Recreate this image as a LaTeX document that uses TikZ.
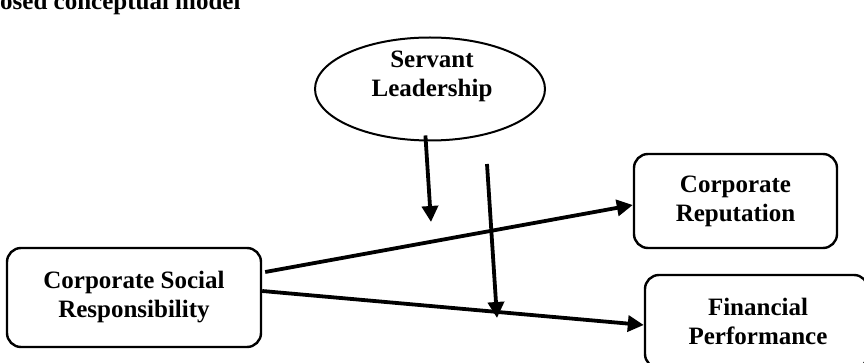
\documentclass[tikz,border=0pt]{standalone}
\usepackage{fontspec}
\setmainfont{Liberation Serif}
\usetikzlibrary{shapes.geometric,arrows.meta}
\begin{document}
\begin{tikzpicture}[x=1pt,y=-1pt,
  every node/.style={font=\fontsize{25}{29}\selectfont\bfseries},
  boxnode/.style={draw, line width=2.4pt, rounded corners=14pt, align=center, inner sep=0pt},
  ellnode/.style={draw, ellipse, line width=2pt, inner sep=0pt},
  conn/.style={line width=3.8pt, -{Triangle[length=16pt,width=16pt]}}]
\useasboundingbox (0,0) rectangle (864,363);
\clip (0,0) rectangle (864,363);
% title (partly cut at the top, as in the reference)
\node[anchor=base west, inner sep=0pt] (title) at (0,10) {osed conceptual model};
% nodes
\node[ellnode, minimum width=230pt, minimum height=103pt] (sl) at (430,89) {};
\node[align=center, inner sep=0pt] (sltext) at (432,76) {Servant\\Leadership};
\node[boxnode, minimum width=254pt, minimum height=99pt] (csr) at (134,297.5) {Corporate Social\\Responsibility};
\node[boxnode, minimum width=203pt, minimum height=94pt] (cr) at (735.5,201) {Corporate\\Reputation};
\node[boxnode, minimum width=223pt, minimum height=93pt] (fp) at (756.5,321.5) {};
\node[align=center, inner sep=0pt] (fptext) at (758,321) {Financial\\Performance};
% free ends
\coordinate (m1) at (431,222);
\coordinate (m2s) at (487,164);
\coordinate (m2e) at (497,318);
% connectors
\draw[conn] ([yshift=6pt]sl.265) -- (m1);
\draw[conn] (m2s) -- (m2e);
\draw[conn] ([xshift=3pt,yshift=25.5pt]csr.east) -- ([yshift=-4pt]cr.west);
\draw[conn] ([yshift=6.5pt]csr.east) -- ([yshift=-3.5pt]fp.west);
\end{tikzpicture}
\end{document}
